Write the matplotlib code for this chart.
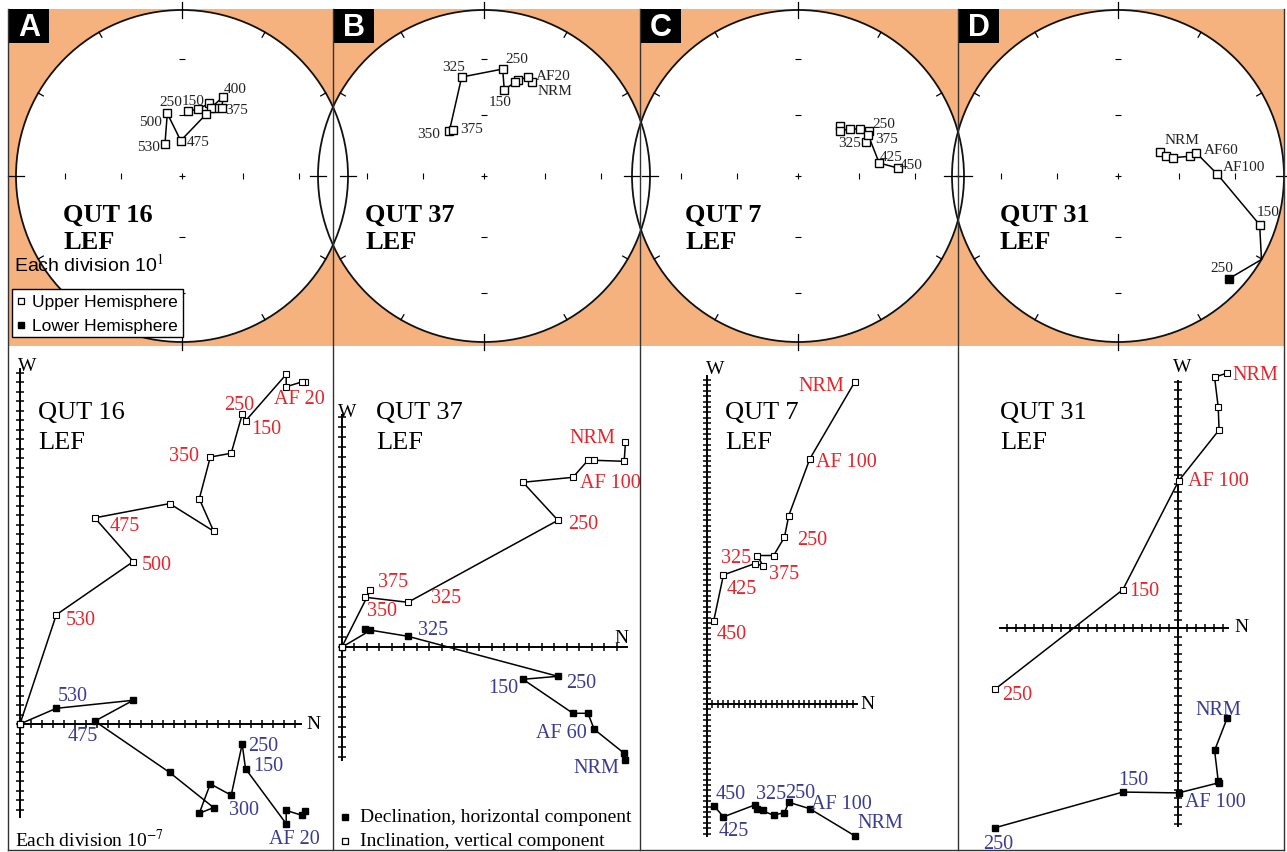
import numpy as np
import matplotlib
matplotlib.use('Agg')
import matplotlib.pyplot as plt
from matplotlib.patches import Circle, Rectangle

plt.rcParams['font.family'] = ['Liberation Serif', 'DejaVu Serif']
plt.rcParams['mathtext.fontset'] = 'stix'

W, H = 1287, 853
RED = '#e2262b'
BLUE = '#3b3b8f'
ORANGE = '#f5b27f'

samples = ['QUT 16', 'QUT 37', 'QUT 7', 'QUT 31']
letters = ['A', 'B', 'C', 'D']

# --- stereonet data: declination, inclination (inc < 0 = upper hemisphere)
a_dec = [5.5, 13.7, 20.4, 26.0, 30.2, 27.5, 23.0, 21.3, 357.9, 346.8, 332.0]
a_inc = [-57.6, -56.0, -51.4, -52.6, -50.7, -45.2, -53.2, -57.2, -72.7, -58.2, -72.2]
a_slab = [(5, '400', 12, 8), (4, '375', 15, -2), (1, '150', -5, 9), (9, '250', 3, 12),
          (9, '500', -17, -8), (10, '530', -16, -3), (8, '475', 17, -1)]

b_dec = [27.0, 24.1, 19.6, 18.3, 13.2, 9.9, 347.3, 322.2, 326.5]
b_inc = [-36.8, -35.0, -38.4, -40.3, -45.6, -34.9, -38.8, -62.1, -62.6]
b_slab = [(6, '325', -8, 11), (5, '250', 14, 11), (4, '150', -4, -12), (1, 'AF20', 25, 2),
          (0, 'NRM', 23, -8), (7, '350', -21, -2), (8, '375', 18, 1)]

c_dec = [40.2, 42.8, 47.9, 52.8, 57.6, 63.4, 59.9, 80.9, 85.4]
c_inc = [-57.8, -59.5, -55.3, -51.3, -47.8, -52.2, -49.5, -49.0, -39.6]
c_slab = [(4, '250', 14, 7), (6, '375', 18, -3), (5, '325', -16, -1), (7, '425', 12, 6),
          (8, '450', 14, 3)]

d_dec = [60.1, 67.9, 71.6, 74.6, 73.6, 89.0, 109.0, 120.2, 132.9]
d_inc = [-66.3, -64.3, -61.4, -53.1, -49.3, -39.9, -10.7, 0.0, 9.9]
d_slab = [(0, 'NRM', 22, 12), (4, 'AF60', 25, 3), (5, 'AF100', 27, 8), (6, '150', 8, 13),
          (8, '250', -7, 11)]

# --- Zijderveld data in divisions: N component, W (horizontal), Up (vertical)
a_n = [25.9, 25.6, 24.2, 24.2, 20.5, 20.2, 19.2, 17.3, 16.3, 17.6, 13.6, 6.8, 10.3, 3.3, 0.0]
a_w = [-9.2, -9.6, -9.1, -10.5, -4.7, -2.1, -7.5, -6.3, -9.4, -8.8, -5.1, 0.3, 2.5, 1.65, 0.0]
a_up = [36.0, 36.0, 35.5, 36.8, 31.9, 32.6, 28.5, 28.1, 23.7, 20.3, 23.2, 21.7, 17.1, 11.5, 0.0]
a_vlab = [(2, 'AF 20', 13, -12), (5, '250', -3, 10), (4, '150', 21, -8), (7, '350', -26, 2),
          (11, '475', 30, -8), (12, '500', 23, -3), (13, '530', 24, -5)]
a_hlab = [(13, '530', 16, 13), (11, '475', -12, -14), (5, '250', 21, -2), (4, '150', 23, 3),
          (9, '300', 30, -2), (3, 'AF 20', 8, -15)]

b_n = [22.7, 22.6, 20.2, 19.7, 18.5, 14.5, 17.3, 5.3, 1.9, 2.3, 0.0]
b_w = [-11.3, -10.6, -8.2, -6.6, -6.6, -3.2, -2.9, 1.1, 1.8, 1.7, 0.0]
b_up = [20.5, 18.6, 18.7, 18.7, 17.0, 16.5, 12.7, 4.5, 5.0, 5.7, 0.0]
b_vlab = [(0, 'NRM', -33, 5), (4, 'AF 100', 37, -5), (6, '250', 25, -3), (9, '375', 23, 9),
          (7, '325', 38, 5), (8, '350', 17, -13)]
b_hlab = [(7, '325', 25, 7), (5, '150', -20, -8), (6, '250', 23, -6), (2, 'AF 60', -33, -3),
          (0, 'NRM', -29, -7)]

c_n = [27.4, 19.1, 15.2, 14.4, 12.4, 9.4, 10.4, 8.9, 3.1, 1.3]
c_w = [-24.4, -19.4, -18.2, -20.1, -20.6, -19.4, -19.6, -18.7, -20.9, -18.8]
c_up = [59.6, 45.4, 34.9, 30.9, 27.5, 27.5, 25.6, 26.0, 23.9, 15.4]
c_vlab = [(0, 'NRM', -33, -3), (1, 'AF 100', 37, -3), (3, '250', 28, -2), (5, '325', -21, -2),
          (6, '375', 21, -8), (8, '425', 18, -14), (9, '450', 18, -13)]
c_hlab = [(9, '450', 17, 12), (7, '325', 16, 11), (2, '250', 11, 10), (1, 'AF 100', 32, 5),
          (0, 'NRM', 26, 13), (8, '425', 10, -14)]

d_n = [5.5, 4.1, 4.5, 4.6, 0.1, -6.1, -20.3]
d_w = [-10.6, -14.4, -18.0, -18.2, -19.4, -19.3, -23.5]
d_up = [30.0, 29.5, 26.0, 23.3, 17.3, 4.5, -7.2]
d_vlab = [(0, 'NRM', 28, -2), (4, 'AF 100', 40, 0), (5, '150', 21, -1), (6, '250', 22, -5)]
d_hlab = [(0, 'NRM', -9, 9), (5, '150', 10, 13), (4, 'AF 100', 37, -9), (6, '250', 3, -16)]

# layout (pixels)
CX = [182, 484, 798, 1118]
CY, R = 177, 166
DIV = [8, 333, 640, 958, 1284]

fig = plt.figure(figsize=(W / 100, H / 100), dpi=100)
bg = fig.add_axes([0, 0, 1, 1])
bg.set_xlim(0, W)
bg.set_ylim(H, 0)
bg.axis('off')
bg.add_patch(Rectangle((8, 10), 1277, 337, fc=ORANGE, ec='none', zorder=0))
for cx in CX:
    bg.add_patch(Circle((cx, CY), R, fc='white', ec='none', zorder=1))
for cx in CX:
    bg.add_patch(Circle((cx, CY), R, fc='none', ec='#111111', lw=1.3, zorder=2))


def eqarea(dec, inc):
    d = np.radians(np.asarray(dec, float))
    r = np.sqrt(2) * np.sin(np.radians(90 - np.abs(np.asarray(inc, float))) / 2)
    return r * np.sin(d), r * np.cos(d)


def stereonet(cx, dec, inc, labels):
    ax = fig.add_axes([(cx - R) / W, (H - CY - R) / H, 2 * R / W, 2 * R / H])
    ax.set_xlim(-1, 1)
    ax.set_ylim(-1, 1)
    ax.axis('off')
    rt = np.sqrt(2) * np.sin(np.radians([30, 60]) / 2)
    for s in (-1, 1):
        ax.plot(np.zeros(2), s * rt, ls='none', marker='_', ms=5, mew=0.8, color='k')
        ax.plot(s * rt, np.zeros(2), ls='none', marker='|', ms=5, mew=0.8, color='k')
    ax.plot(0, 0, 'k+', ms=4, mew=0.8)
    for deg in range(0, 360, 30):
        a = np.radians(deg)
        r0, r1 = (0.95, 1.05) if deg % 90 == 0 else (0.965, 1.0)
        ax.plot([r0 * np.sin(a), r1 * np.sin(a)], [r0 * np.cos(a), r1 * np.cos(a)],
                color='k', lw=0.9, clip_on=False)
    x, y = eqarea(dec, inc)
    inc = np.asarray(inc)
    ax.plot(x, y, color='k', lw=1.1, clip_on=False)
    ax.plot(x[inc < 0], y[inc < 0], ls='none', marker='s', ms=5.8, mfc='white', mec='k', mew=1.0)
    ax.plot(x[inc > 0], y[inc > 0], ls='none', marker='s', ms=5.8, mfc='k', mec='k')
    for i, txt, dx, dy in labels:
        ax.annotate(txt, (x[i], y[i]), xytext=(dx, dy), textcoords='offset pixels',
                    ha='center', va='center', fontsize=11, color='#222222')


def zijderveld(box, origin, scale, nlim, wlim, n, w, up, vlabels, hlabels, woff, noff):
    x0, x1, y0, y1 = box
    ox, oy = origin
    sx, sy = scale
    ax = fig.add_axes([x0 / W, (H - y1) / H, (x1 - x0) / W, (y1 - y0) / H])
    ax.set_xlim((x0 - ox) / sx, (x1 - ox) / sx)
    ax.set_ylim((oy - y1) / sy, (oy - y0) / sy)
    ax.axis('off')
    ax.plot(nlim, [0, 0], color='k', lw=1.4)
    ax.plot([0, 0], wlim, color='k', lw=1.4)
    tn = np.arange(np.ceil(nlim[0]), np.floor(nlim[1]) + 1)
    tw = np.arange(np.ceil(wlim[0]), np.floor(wlim[1]) + 1)
    ax.plot(tn, np.zeros_like(tn), ls='none', marker='|', ms=6, mew=1.1, color='k')
    ax.plot(np.zeros_like(tw), tw, ls='none', marker='_', ms=6, mew=1.1, color='k')
    ax.plot(n, w, color='k', lw=1.1, clip_on=False)
    ax.plot(n, up, color='k', lw=1.1, clip_on=False)
    ax.plot(n, w, ls='none', marker='s', ms=4.3, mfc='k', mec='k', clip_on=False)
    ax.plot(n, up, ls='none', marker='s', ms=4.3, mfc='white', mec='k', mew=0.8, clip_on=False)
    for i, txt, dx, dy in vlabels:
        ax.annotate(txt, (n[i], up[i]), xytext=(dx, dy), textcoords='offset pixels',
                    ha='center', va='center', fontsize=14.5, color=RED)
    for i, txt, dx, dy in hlabels:
        ax.annotate(txt, (n[i], w[i]), xytext=(dx, dy), textcoords='offset pixels',
                    ha='center', va='center', fontsize=14.5, color=BLUE)
    ax.annotate('W', (0, wlim[1]), xytext=woff, textcoords='offset pixels',
                ha='center', va='center', fontsize=14)
    ax.annotate('N', (nlim[1], 0), xytext=noff, textcoords='offset pixels',
                ha='center', va='center', fontsize=14)


stereonet(CX[0], a_dec, a_inc, a_slab)
stereonet(CX[1], b_dec, b_inc, b_slab)
stereonet(CX[2], c_dec, c_inc, c_slab)
stereonet(CX[3], d_dec, d_inc, d_slab)

zijderveld((8, 333, 347, 851), (20, 725), (11, 9.5), (0, 25.5), (-9.8, 37.4),
           a_n, a_w, a_up, a_vlab, a_hlab, (7, 3), (13, 0))
zijderveld((333, 640, 347, 851), (341.7, 648.3), (12.5, 10), (0, 22.8), (-11.3, 23.2),
           b_n, b_w, b_up, b_vlab, b_hlab, (5, 4), (-5, 10))
zijderveld((640, 958, 347, 851), (706.7, 705), (5.4, 5.4), (0, 27.8), (-24.4, 60.8),
           c_n, c_w, c_up, c_vlab, c_hlab, (8, 7), (11, 0))
zijderveld((958, 1284, 347, 851), (1177.7, 629), (9, 8.5), (-19.7, 5.6), (-23.3, 29.1),
           d_n, d_w, d_up, d_vlab, d_hlab, (4, 14), (13, 1))

# foreground: frame, dividers, panel letters, titles, legends
fg = fig.add_axes([0, 0, 1, 1])
fg.set_xlim(0, W)
fg.set_ylim(H, 0)
fg.axis('off')
for x in DIV:
    fg.plot([x, x], [10, 851], color='#333333', lw=1.0)
fg.plot([8, 1284], [851, 851], color='#333333', lw=1.0)

title_x = [63, 365, 685, 1000]
sub_x = [38, 376, 725, 1000]
for k in range(4):
    fg.add_patch(Rectangle((DIV[k] + 1, 10), 40, 34, fc='black', ec='none'))
    fg.text(DIV[k] + 21, 28, letters[k], color='white', fontsize=22, fontweight='bold',
            family='Liberation Sans', ha='center', va='center')
    fg.text(title_x[k], 215, samples[k], fontsize=19, fontweight='bold', va='center')
    fg.text(title_x[k], 242, 'LEF', fontsize=19, fontweight='bold', va='center')
    fg.text(sub_x[k], 413, samples[k], fontsize=19, va='center')
    fg.text(sub_x[k], 443, 'LEF', fontsize=19, va='center')

# stereonet legend
fg.text(14, 265, 'Each division 10$^{1}$', fontsize=14, family='Liberation Sans', va='center')
fg.add_patch(Rectangle((12, 290), 171, 48, fc='white', ec='black', lw=1.0))
fg.plot(21, 302, ls='none', marker='s', ms=4.5, mfc='white', mec='k', mew=0.9)
fg.plot(21, 326, ls='none', marker='s', ms=4.5, mfc='k', mec='k')
fg.text(32, 302, 'Upper Hemisphere', fontsize=12.5, family='Liberation Sans', va='center')
fg.text(32, 326, 'Lower Hemisphere', fontsize=12.5, family='Liberation Sans', va='center')

# zijderveld legend
fg.text(15, 840, 'Each division 10$^{-7}$', fontsize=14, va='center')
fg.plot(345, 818, ls='none', marker='s', ms=5, mfc='k', mec='k')
fg.plot(345, 842, ls='none', marker='s', ms=5, mfc='white', mec='k', mew=0.9)
fg.text(360, 818, 'Declination, horizontal component', fontsize=14, va='center')
fg.text(360, 842, 'Inclination, vertical component', fontsize=14, va='center')

fig.savefig('out.png', dpi=100)
